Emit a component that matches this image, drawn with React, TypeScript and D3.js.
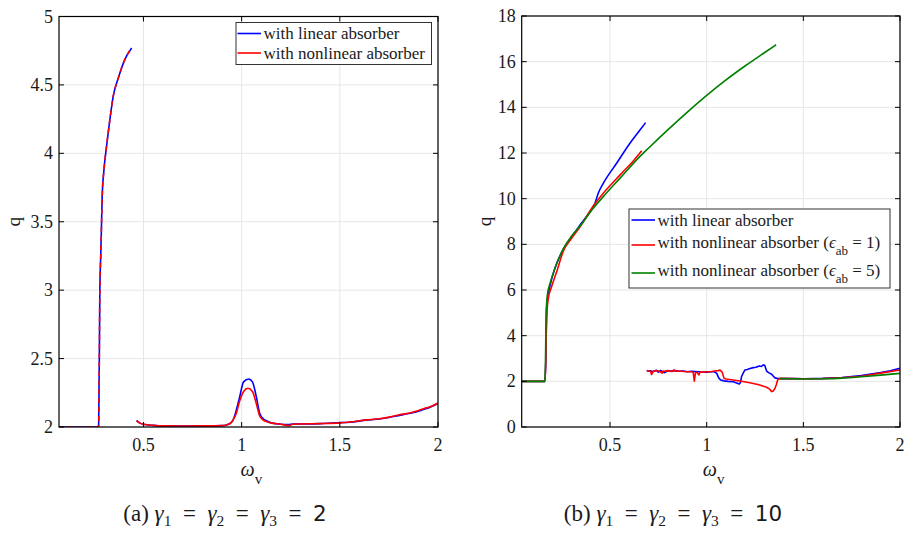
import React from 'react';
import * as d3 from 'd3';

// ---------- tick labels ----------
const leftXTicks = [0.5, 1, 1.5, 2];
const leftYTicks = [2, 2.5, 3, 3.5, 4, 4.5, 5];
const rightXTicks = [0.5, 1, 1.5, 2];
const rightYTicks = [0, 2, 4, 6, 8, 10, 12, 14, 16, 18];

// ---------- panel (a): gamma = 2 ----------
// first branch (linear and nonlinear coincide)
const aBranch1W = [0.07, 0.265, 0.272, 0.278, 0.283, 0.287, 0.29, 0.299, 0.312, 0.329, 0.346, 0.372, 0.405, 0.44];
const aBranch1Q = [2.0, 2.0, 2.01, 3.0, 3.27, 3.51, 3.685, 3.88, 4.05, 4.246, 4.417, 4.55, 4.685, 4.77];

const aLinW = [0.465, 0.48, 0.5, 0.55, 0.6, 0.7, 0.8, 0.9, 0.923, 0.945, 0.956, 0.973, 0.99, 1.01, 1.036, 1.055, 1.075, 1.092, 1.11, 1.126, 1.15, 1.2, 1.24, 1.26, 1.3, 1.4, 1.5, 1.55, 1.634, 1.7, 1.75, 1.804, 1.85, 1.888, 1.93, 1.96, 1.99, 2.0];
const aLinQ = [2.046, 2.03, 2.02, 2.012, 2.008, 2.007, 2.008, 2.01, 2.015, 2.03, 2.05, 2.124, 2.22, 2.33, 2.351, 2.33, 2.22, 2.1, 2.06, 2.046, 2.03, 2.02, 2.018, 2.022, 2.022, 2.025, 2.032, 2.035, 2.05, 2.058, 2.07, 2.085, 2.098, 2.11, 2.13, 2.145, 2.165, 2.172];

const aNonW = [0.465, 0.48, 0.5, 0.55, 0.6, 0.7, 0.8, 0.9, 0.923, 0.945, 0.956, 0.973, 0.99, 1.01, 1.032, 1.055, 1.075, 1.092, 1.11, 1.126, 1.15, 1.2, 1.24, 1.26, 1.3, 1.4, 1.5, 1.55, 1.634, 1.7, 1.75, 1.804, 1.85, 1.888, 1.93, 1.96, 1.99, 2.0];
const aNonQ = [2.046, 2.03, 2.02, 2.012, 2.008, 2.007, 2.008, 2.01, 2.015, 2.03, 2.05, 2.1, 2.19, 2.26, 2.283, 2.26, 2.17, 2.08, 2.05, 2.04, 2.03, 2.02, 2.01, 2.02, 2.022, 2.025, 2.03, 2.036, 2.052, 2.06, 2.072, 2.09, 2.1, 2.115, 2.135, 2.148, 2.168, 2.175];

// ---------- panel (b): gamma = 10 ----------
const bLin1W = [0.043, 0.163, 0.168, 0.17, 0.172, 0.176, 0.19, 0.215, 0.258, 0.3, 0.345, 0.39, 0.422, 0.439, 0.465, 0.534, 0.603, 0.65, 0.684];
const bLin1Q = [2, 2, 3.0, 4.2, 4.98, 5.56, 6.2, 6.95, 7.78, 8.3, 8.85, 9.35, 9.8, 10.24, 10.67, 11.55, 12.43, 12.95, 13.33];

const bNon1W = [0.043, 0.163, 0.168, 0.171, 0.175, 0.18, 0.198, 0.227, 0.258, 0.3, 0.345, 0.413, 0.465, 0.552, 0.62, 0.664];
const bNon1Q = [2, 2, 3.0, 4.5, 5.2, 5.6, 6.15, 6.88, 7.7, 8.25, 8.77, 9.68, 10.24, 11.04, 11.65, 12.1];

const bNon5W = [0.043, 0.163, 0.167, 0.169, 0.172, 0.176, 0.19, 0.215, 0.258, 0.3, 0.345, 0.413, 0.465, 0.552, 0.655, 0.7, 0.8, 0.9, 1.0, 1.1, 1.2, 1.3, 1.359];
const bNon5Q = [2, 2, 3.5, 5.0, 5.4, 5.8, 6.3, 6.95, 7.8, 8.35, 8.8, 9.58, 10.09, 10.9, 11.85, 12.22, 13.02, 13.79, 14.52, 15.2, 15.82, 16.4, 16.74];

const bLin2W = [0.69, 0.7, 0.71, 0.72, 0.73, 0.74, 0.75, 0.76, 0.77, 0.78, 0.8, 0.82, 0.84, 0.86, 0.88, 0.9, 0.92, 0.94, 0.96, 0.98, 1.0, 1.02, 1.04, 1.052, 1.062, 1.072, 1.09, 1.11, 1.137, 1.155, 1.168, 1.175, 1.18, 1.19, 1.198, 1.21, 1.22, 1.241, 1.255, 1.272, 1.283, 1.293, 1.3, 1.31, 1.32, 1.336, 1.345, 1.353, 1.365, 1.38, 1.45, 1.5, 1.6, 1.7, 1.8, 1.9, 1.95, 2.0];
const bLin2Q = [2.47, 2.44, 2.46, 2.42, 2.45, 2.48, 2.4, 2.47, 2.44, 2.38, 2.46, 2.45, 2.47, 2.44, 2.45, 2.42, 2.44, 2.43, 2.42, 2.41, 2.4, 2.42, 2.42, 2.35, 2.15, 2.06, 2.02, 2.0, 1.98, 1.93, 1.88, 1.95, 2.2, 2.38, 2.5, 2.52, 2.55, 2.6, 2.62, 2.67, 2.65, 2.72, 2.7, 2.45, 2.38, 2.31, 2.22, 2.15, 2.13, 2.12, 2.12, 2.11, 2.13, 2.17, 2.25, 2.38, 2.46, 2.57];

const bNon1bW = [0.69, 0.7, 0.71, 0.715, 0.724, 0.73, 0.74, 0.75, 0.76, 0.77, 0.775, 0.78, 0.8, 0.82, 0.83, 0.84, 0.86, 0.88, 0.9, 0.92, 0.93, 0.936, 0.942, 0.95, 0.96, 0.965, 0.97, 0.98, 1.0, 1.02, 1.04, 1.06, 1.069, 1.08, 1.09, 1.1, 1.137, 1.18, 1.223, 1.27, 1.31, 1.325, 1.336, 1.345, 1.353, 1.36, 1.367, 1.379, 1.45, 1.5, 1.6, 1.7, 1.8, 1.9, 2.0];
const bNon1bQ = [2.47, 2.45, 2.43, 2.3, 2.45, 2.44, 2.47, 2.45, 2.42, 2.36, 2.45, 2.44, 2.47, 2.43, 2.5, 2.44, 2.45, 2.43, 2.42, 2.42, 2.4, 2.01, 2.38, 2.4, 2.28, 2.4, 2.42, 2.4, 2.42, 2.42, 2.45, 2.47, 2.49, 2.4, 2.13, 2.1, 2.06, 2.0, 1.94, 1.85, 1.74, 1.66, 1.55, 1.58, 1.69, 1.85, 2.06, 2.13, 2.12, 2.11, 2.12, 2.16, 2.22, 2.36, 2.5];

const bNon5bW = [1.379, 1.45, 1.5, 1.6, 1.7, 1.8, 1.9, 2.0];
const bNon5bQ = [2.12, 2.11, 2.1, 2.11, 2.14, 2.2, 2.27, 2.35];

const BLUE = '#0000ff';
const RED = '#ff0000';
const GREEN = '#008000';
const SERIF = '"Liberation Serif", "Times New Roman", Times, serif';

type Series = { w: number[]; q: number[]; color: string; dash?: string; smooth?: boolean };

type PanelProps = {
  id: string;
  x: d3.ScaleLinear<number, number>;
  y: d3.ScaleLinear<number, number>;
  xTicks: number[];
  yTicks: number[];
  series: Series[];
  qLabelX: number;
};

function Panel({ id, x, y, xTicks, yTicks, series, qLabelX }: PanelProps) {
  const [x0, x1] = x.range();
  const [y0, y1] = y.range(); // y0 bottom, y1 top
  const tick = 5;
  return (
    <g>
      <defs>
        <clipPath id={id}>
          <rect x={x0} y={y1} width={x1 - x0} height={y0 - y1} />
        </clipPath>
      </defs>
      {xTicks.map((t) => (
        <line key={'gx' + t} x1={x(t)} x2={x(t)} y1={y1} y2={y0} stroke="#e6e6e6" strokeWidth={1} />
      ))}
      {yTicks.map((t) => (
        <line key={'gy' + t} x1={x0} x2={x1} y1={y(t)} y2={y(t)} stroke="#e6e6e6" strokeWidth={1} />
      ))}
      <g clipPath={`url(#${id})`}>
        {series.map((s, i) => {
          const pts: [number, number][] = s.w.map((w, k) => [w, s.q[k]]);
          const gen = d3
            .line<[number, number]>()
            .x((d) => x(d[0]))
            .y((d) => y(d[1]))
            .curve(s.smooth ? d3.curveMonotoneX : d3.curveLinear);
          return (
            <path
              key={i}
              d={gen(pts) || ''}
              fill="none"
              stroke={s.color}
              strokeWidth={1.6}
              strokeDasharray={s.dash}
              strokeLinejoin="round"
            />
          );
        })}
      </g>
      <rect x={x0} y={y1} width={x1 - x0} height={y0 - y1} fill="none" stroke="#000" strokeWidth={1.2} />
      {xTicks.map((t) => (
        <g key={'tx' + t}>
          <line x1={x(t)} x2={x(t)} y1={y0} y2={y0 - tick} stroke="#000" />
          <line x1={x(t)} x2={x(t)} y1={y1} y2={y1 + tick} stroke="#000" />
          <text x={x(t)} y={y0 + 24} textAnchor="middle" fontFamily={SERIF} fontSize={18} fill="#1a1a1a">
            {String(t)}
          </text>
        </g>
      ))}
      {yTicks.map((t) => (
        <g key={'ty' + t}>
          <line x1={x0} x2={x0 + tick} y1={y(t)} y2={y(t)} stroke="#000" />
          <line x1={x1} x2={x1 - tick} y1={y(t)} y2={y(t)} stroke="#000" />
          <text x={x0 - 6} y={y(t) + 6} textAnchor="end" fontFamily={SERIF} fontSize={18} fill="#1a1a1a">
            {String(t)}
          </text>
        </g>
      ))}
      <text
        transform={`translate(${qLabelX},${(y0 + y1) / 2}) rotate(-90)`}
        textAnchor="middle"
        fontFamily={SERIF}
        fontSize={19}
        fill="#1a1a1a"
      >
        q
      </text>
      <text x={(x0 + x1) / 2 - 8} y={y0 + 49} fontFamily={SERIF} fontSize={20} fill="#1a1a1a">
        <tspan fontStyle="italic">ω</tspan>
        <tspan dy={8} fontSize={15}>v</tspan>
      </text>
    </g>
  );
}

function Caption({ cx, label, value }: { cx: number; label: string; value: string }) {
  const eq = '\u2002=\u2002';
  return (
    <text x={cx} y={521} textAnchor="middle" fontFamily={SERIF} fontSize={23} fill="#1a1a1a">
      <tspan>{label} </tspan>
      <tspan fontStyle="italic">γ</tspan>
      <tspan dy={5} fontSize={15.5}>1</tspan>
      <tspan dy={-5}>{eq}</tspan>
      <tspan fontStyle="italic">γ</tspan>
      <tspan dy={5} fontSize={15.5}>2</tspan>
      <tspan dy={-5}>{eq}</tspan>
      <tspan fontStyle="italic">γ</tspan>
      <tspan dy={5} fontSize={15.5}>3</tspan>
      <tspan dy={-5}>{eq}</tspan>
      <tspan fontFamily='"DejaVu Sans", sans-serif' fontSize={21.5}>{value}</tspan>
    </text>
  );
}

export default function App() {
  const xL = d3.scaleLinear().domain([0.07, 2]).range([59, 438]);
  const yL = d3.scaleLinear().domain([2, 5]).range([427, 16.5]);
  const xR = d3.scaleLinear().domain([0.043, 2]).range([521.7, 900]);
  const yR = d3.scaleLinear().domain([0, 18]).range([427, 16]);

  const leftSeries: Series[] = [
    { w: aBranch1W, q: aBranch1Q, color: BLUE, smooth: true },
    { w: aLinW, q: aLinQ, color: BLUE, smooth: true },
    { w: aBranch1W, q: aBranch1Q, color: RED, dash: '5,4', smooth: true },
    { w: aNonW, q: aNonQ, color: RED, smooth: true },
  ];
  const rightSeries: Series[] = [
    { w: bLin1W, q: bLin1Q, color: BLUE, smooth: true },
    { w: bLin2W, q: bLin2Q, color: BLUE },
    { w: bNon1W, q: bNon1Q, color: RED, smooth: true },
    { w: bNon1bW, q: bNon1bQ, color: RED },
    { w: bNon5W, q: bNon5Q, color: GREEN, smooth: true },
    { w: bNon5bW, q: bNon5bQ, color: GREEN, smooth: true },
  ];

  return (
    <svg
      width={905}
      height={533}
      style={{ position: 'absolute', left: 0, top: 0, display: 'block', background: '#fff' }}
    >
      <rect width={905} height={533} fill="#fff" />
      <Panel id="clipA" x={xL} y={yL} xTicks={leftXTicks} yTicks={leftYTicks} series={leftSeries} qLabelX={20} />
      <Panel id="clipB" x={xR} y={yR} xTicks={rightXTicks} yTicks={rightYTicks} series={rightSeries} qLabelX={491} />

      <g fontFamily={SERIF} fontSize={17} fill="#1a1a1a">
        <rect x={236} y={22.5} width={195.5} height={42} fill="#fff" stroke="#333" strokeWidth={1} />
        <line x1={237.5} x2={261} y1={33.5} y2={33.5} stroke={BLUE} strokeWidth={1.6} />
        <text x={263.5} y={39}>with linear absorber</text>
        <line x1={237.5} x2={261} y1={53} y2={53} stroke={RED} strokeWidth={1.6} />
        <text x={263.5} y={58.5}>with nonlinear absorber</text>
      </g>

      <g fontFamily={SERIF} fontSize={17} fill="#1a1a1a">
        <rect x={629} y={209} width={261} height={79} fill="#fff" stroke="#333" strokeWidth={1} />
        <line x1={631.5} x2={655} y1={220} y2={220} stroke={BLUE} strokeWidth={1.6} />
        <text x={657.5} y={226}>with linear absorber</text>
        <line x1={631.5} x2={655} y1={245} y2={245} stroke={RED} strokeWidth={1.6} />
        <text x={657.5} y={248}>
          with nonlinear absorber (<tspan fontStyle="italic">ϵ</tspan>
          <tspan dy={7} fontSize={13}>ab</tspan>
          <tspan dy={-7}> = 1)</tspan>
        </text>
        <line x1={631.5} x2={655} y1={273} y2={273} stroke={GREEN} strokeWidth={1.6} />
        <text x={657.5} y={276}>
          with nonlinear absorber (<tspan fontStyle="italic">ϵ</tspan>
          <tspan dy={7} fontSize={13}>ab</tspan>
          <tspan dy={-7}> = 5)</tspan>
        </text>
      </g>

      <Caption cx={225} label="(a)" value="2" />
      <Caption cx={673} label="(b)" value="10" />
    </svg>
  );
}
